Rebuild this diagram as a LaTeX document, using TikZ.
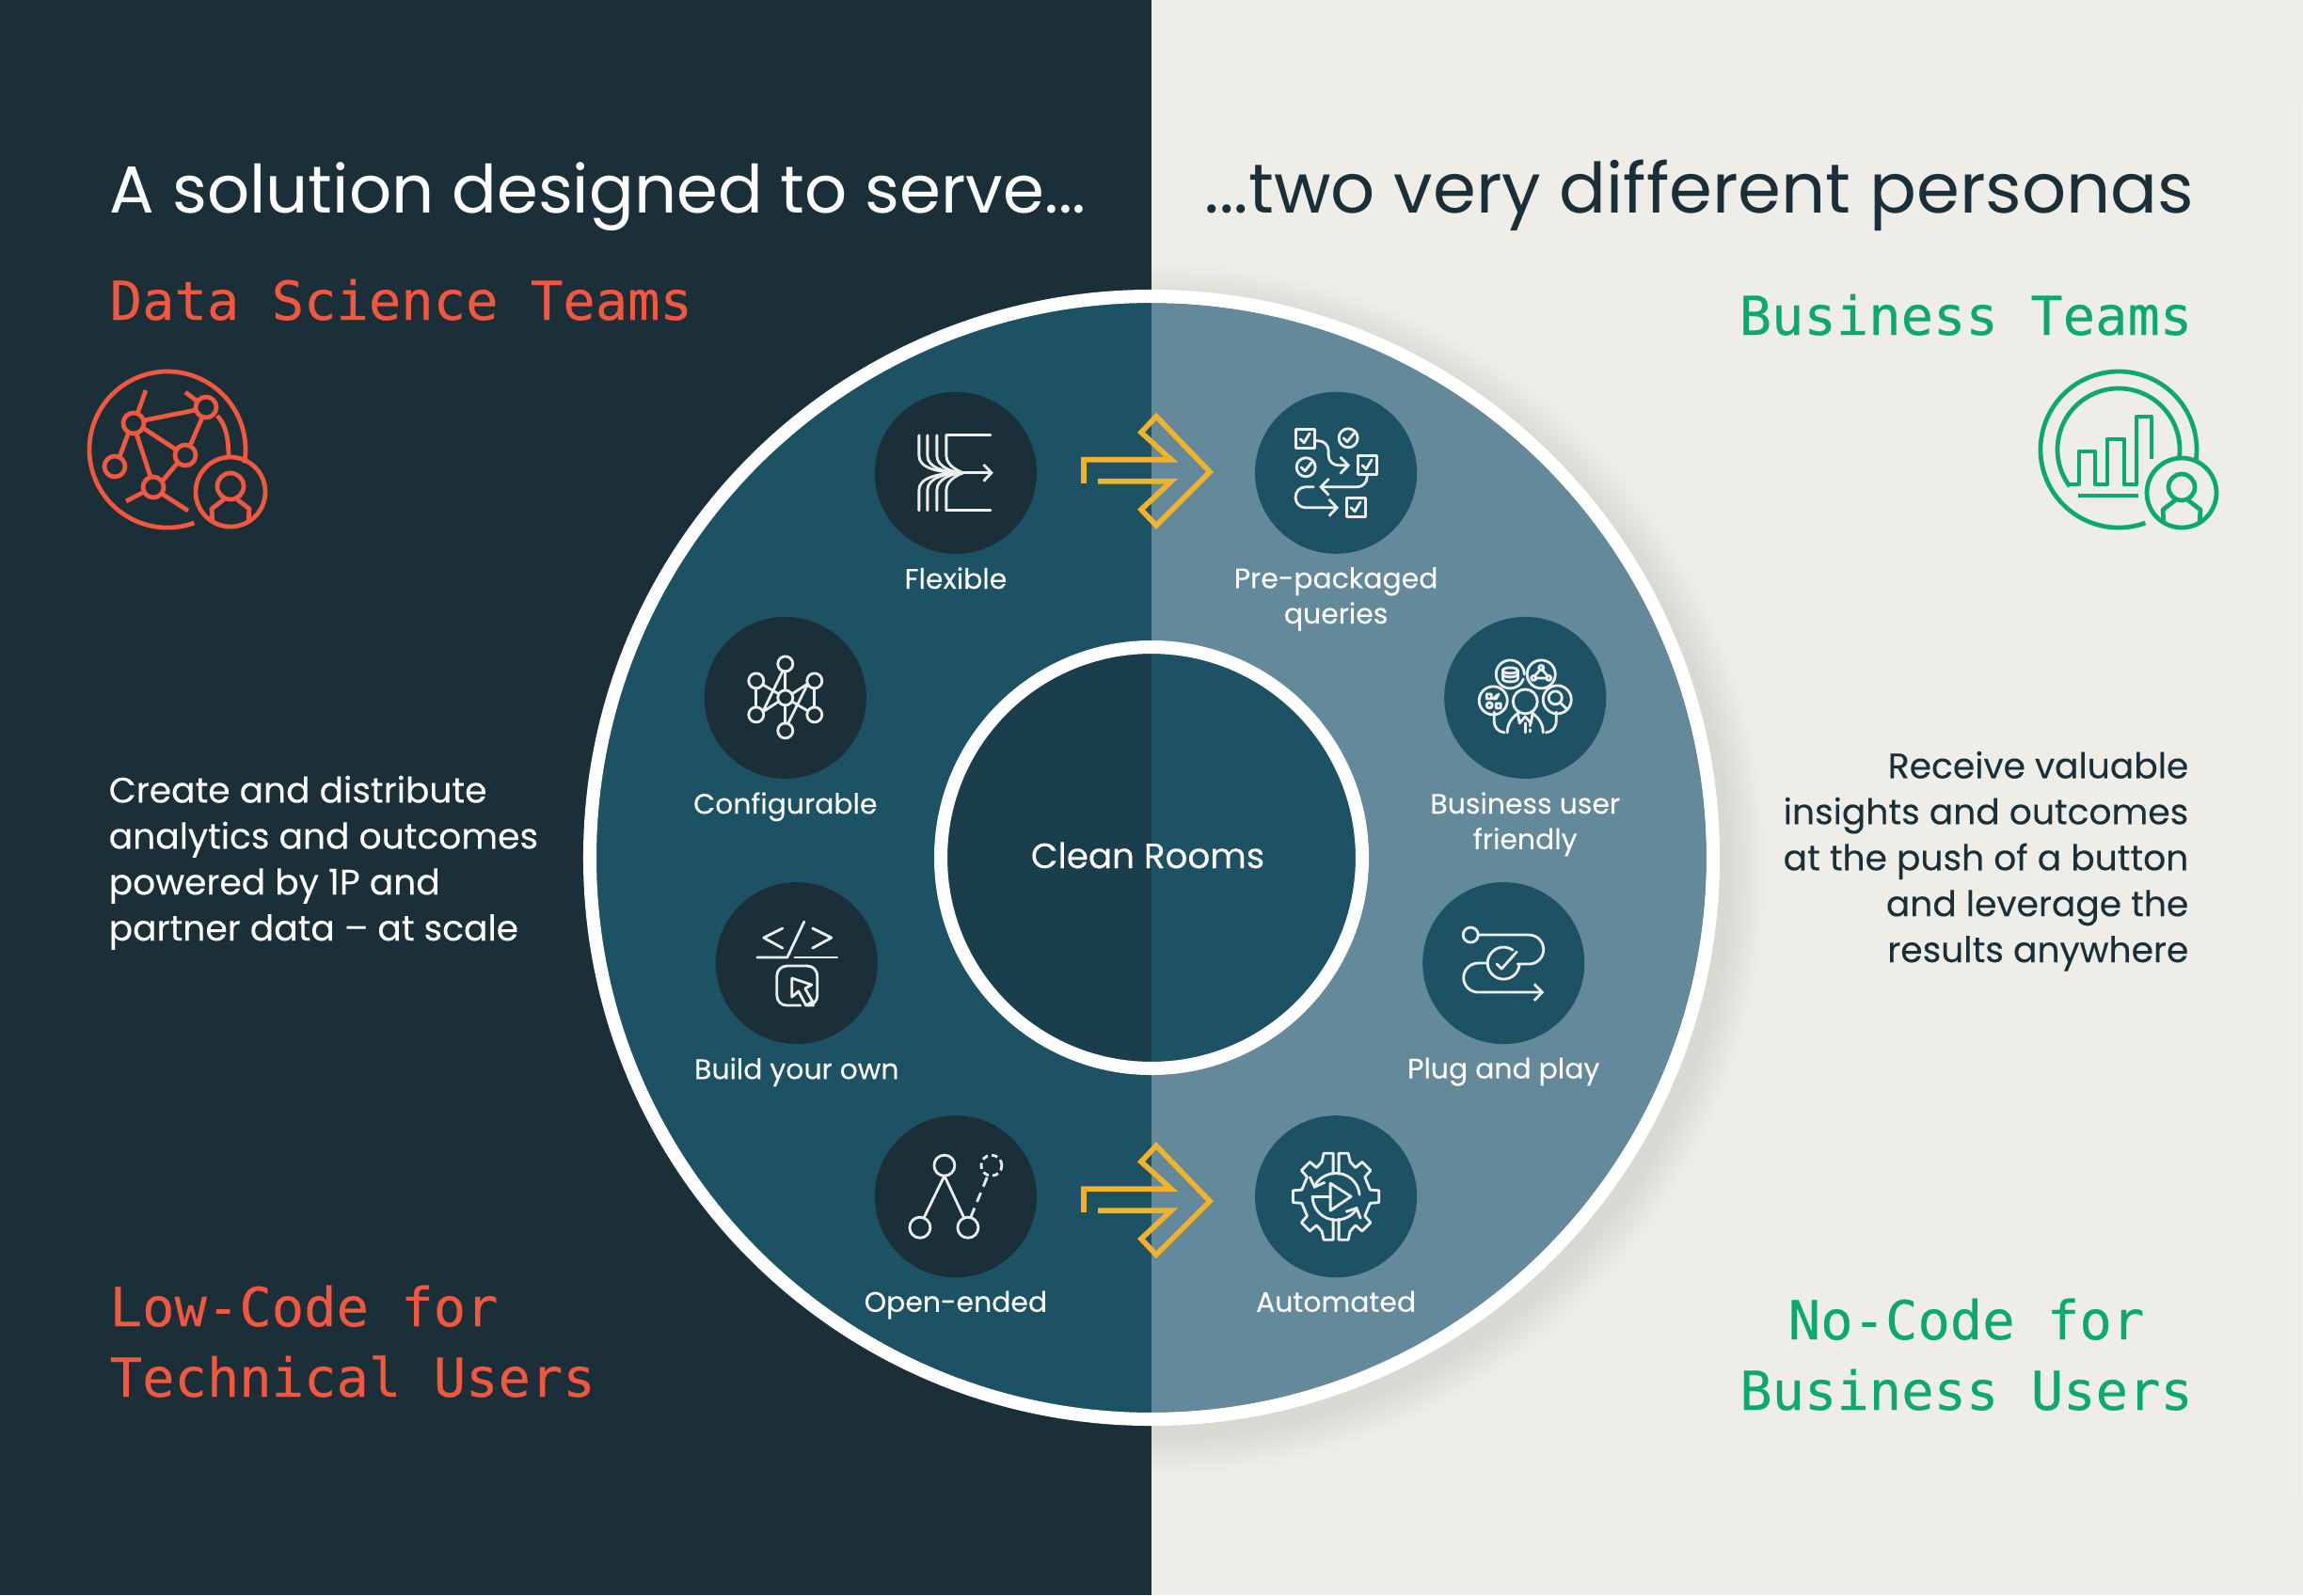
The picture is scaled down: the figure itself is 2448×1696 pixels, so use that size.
\documentclass[tikz,border=0pt]{standalone}
\usepackage{fontspec}
\setmainfont{Poppins}
\setmonofont[FakeBold=.25]{DejaVu Sans Mono}
\usetikzlibrary{positioning,calc,arrows.meta}
\definecolor{nightbg}{HTML}{1B2F38}
\definecolor{paperbg}{HTML}{EEEDE8}
\definecolor{diskL}{HTML}{1D5265}
\definecolor{diskR}{HTML}{63899A}
\definecolor{hubL}{HTML}{1A3E4B}
\definecolor{coral}{HTML}{F4573F}
\definecolor{leaf}{HTML}{0BAA6C}
\definecolor{gold}{HTML}{F2B32B}
\definecolor{icoline}{HTML}{ECEFEF}
\tikzset{
  x=0.01cm, y=0.01cm,
  bubL/.style={circle, fill=nightbg, minimum size=1.72cm, inner sep=0pt, on grid},
  bubR/.style={circle, fill=diskL, minimum size=1.72cm, inner sep=0pt, on grid},
  lab/.style={text=white, font=\addfontfeature{FakeBold=.12}\fontsize{8.5}{10.7}\selectfont, align=center, inner sep=0pt, anchor=north},
  title/.style={inner sep=0pt, font=\fontsize{20.1}{24}\selectfont},
  mono/.style={inner sep=0pt, font=\ttfamily\fontsize{16.25}{21.3}\selectfont},
  para/.style={inner sep=0pt, font=\addfontfeature{FakeBold=.12}\fontsize{10.7}{13.9}\selectfont},
  ico/.style={draw=icoline, line width=.8pt, line cap=round, line join=round},
  icoarr/.style={ico, -{Straight Barb[length=2.4pt,width=5pt]}},
  bigico/.style={line width=1.35pt, line join=round},
  swoop/.pic={
    \draw[gold, line width=1.6pt] (-66,-11) -- (-66,14) -- (27,14) -- (-5,43) -- (11,60) -- (68,1)
      -- (11,-56) -- (-5,-39) -- (27,-9) -- (-51,-9);
  },
  bust/.pic={
    \draw (0,0) circle[radius=37];
    \draw (0,6) circle[radius=14];
    \draw (-19,-32) -- (-20,-18) -- (-7,-8) (19,-32) -- (20,-18) -- (7,-8);
  },
}
\begin{document}
\begin{tikzpicture}
\useasboundingbox (0,-1696) rectangle (2448,0);

% backgrounds
\fill[nightbg] (0,-1696) rectangle (1224,0);
\fill[paperbg] (1224,-1696) rectangle (2448,0);
\draw[black!8, line width=.6pt, rounded corners=8pt] (1224,-83) -- (2444,-83) -- (2444,-1615) -- (1224,-1615);

% soft shadow on the paper side
\begin{scope}
\clip (1224,-1696) rectangle (2448,0);
\foreach \s in {0,2,...,40} {
  \fill[black, opacity=.004] (1234,-924) circle[radius=604+\s];
}
\end{scope}

% big disk and hub
\coordinate (hub) at (1224,-912);
\fill[diskL] (hub) ++(90:590) arc[start angle=90, end angle=270, radius=590] -- cycle;
\fill[diskR] (hub) ++(90:590) arc[start angle=90, end angle=-90, radius=590] -- cycle;
\fill[hubL] (hub) ++(90:217) arc[start angle=90, end angle=270, radius=217] -- cycle;
\fill[diskL] (hub) ++(90:217) arc[start angle=90, end angle=-90, radius=217] -- cycle;
\draw[white, line width=4pt] (hub) circle[radius=597];
\draw[white, line width=4pt] (hub) circle[radius=224];
\node[text=white, inner sep=0pt, anchor=base, font=\addfontfeature{FakeBold=.12}\fontsize{10.6}{13}\selectfont] (clean) at (1220,-923) {Clean Rooms};

% headings
\node[title, text=white, anchor=base west] (ttlL) at (116,-226) {A solution designed to serve...};
\node[title, text=nightbg, anchor=base east, font=\fontsize{21}{24}\selectfont] (ttlR) at (2333,-226) {...two very different personas};
\node[mono, text=coral, anchor=base west] (dsteam) at (116,-340) {Data Science Teams};
\node[mono, text=leaf, anchor=base east] (bizteam) at (2331,-356) {Business Teams};
\node[mono, text=coral, anchor=base west, align=left] (lowcode) at (116,-1485) {Low-Code for\\Technical Users};
\node[mono, text=leaf, anchor=base, align=center] (nocode) at (2090,-1499) {No-Code for\\Business Users};
\node[para, text=white, anchor=base west, align=left] (parL) at (115,-1000) {Create and distribute\\analytics and outcomes\\powered by 1P and\\partner data -- at scale};
\node[para, text=nightbg, anchor=base east, align=right] (parR) at (2327,-1023) {Receive valuable\\insights and outcomes\\at the push of a button\\and leverage the\\results anywhere};

% bubbles
\node[bubL, above left=4.09cm and 2.08cm of hub, anchor=center] (flex) {};
\node[bubR, above right=4.09cm and 1.96cm of hub, anchor=center] (pack) {};
\node[bubL, above left=1.70cm and 3.89cm of hub, anchor=center] (conf) {};
\node[bubR, above right=1.70cm and 3.97cm of hub, anchor=center] (biz) {};
\node[bubL, below left=1.12cm and 3.77cm of hub, anchor=center] (build) {};
\node[bubR, below right=1.12cm and 3.74cm of hub, anchor=center] (plug) {};
\node[bubL, below left=3.60cm and 2.08cm of hub, anchor=center] (open) {};
\node[bubR, below right=3.60cm and 1.96cm of hub, anchor=center] (auto) {};

\node[lab, below=.13cm of flex] (flexlab) {Flexible};
\node[lab, below=.13cm of pack] (packlab) {Pre-packaged\\queries};
\node[lab, below=.13cm of conf] (conflab) {Configurable};
\node[lab, below=.13cm of biz] (bizlab) {Business user\\friendly};
\node[lab, below=.13cm of build] (buildlab) {Build your own};
\node[lab, below=.13cm of plug] (pluglab) {Plug and play};
\node[lab, below=.13cm of open] (openlab) {Open-ended};
\node[lab, below=.13cm of auto] (autolab) {Automated};

% gold arrows
\path ($(flex)!.5!(pack)$) pic {swoop};
\path ($(open)!.5!(auto)$) ++(0,-6) pic {swoop};

% persona icons
\begin{scope}[coral, bigico]
\draw (178,-478) ++(-70:83) arc[start angle=-70, end angle=-370, radius=83];
\path (245,-523) pic {bust};
\foreach \p in {(142,-450),(219,-433),(197,-484),(163,-518),(122,-496)} {
  \draw \p circle[radius=11];
}
\draw (155,-415) -- (146,-440) (197,-417) -- (209,-426) (134,-533) -- (153,-523) (200,-543) -- (172,-525);
\draw (153,-447) -- (208,-436) (152,-455) -- (187,-478) (145,-461) -- (160,-507) (137,-459) -- (127,-486);
\draw (172,-512) -- (189,-492) (215,-444) -- (202,-474);
\draw (231,-442) .. controls (240,-452) and (243,-465) .. (243,-488);
\end{scope}
\begin{scope}[leaf, bigico]
\draw (2252,-478) ++(-70:83) arc[start angle=-70, end angle=-369, radius=83];
\draw (2252,-478) ++(217:65) arc[start angle=217, end angle=-9, radius=65];
\path (2319,-524) pic {bust};
\draw (2200,-515) -- (2210,-515) -- (2210,-480) -- (2227,-480) -- (2227,-515) -- (2240,-515) -- (2240,-467)
  -- (2258,-467) -- (2258,-515) -- (2271,-515) -- (2271,-443) -- (2287,-443) -- (2287,-488);
\draw (2209,-527) -- (2273,-527);
\end{scope}

% flexible
\begin{scope}[shift={(flex)}]
\foreach \a in {-39,-30,-20,-10} {
  \draw[ico] (\a,40) -- (\a,18) .. controls (\a,6) and (\a+18,0) .. (8,0);
  \draw[ico] (\a,-40) -- (\a,-18) .. controls (\a,-6) and (\a+18,0) .. (8,0);
}
\draw[ico] (-10,40) -- (37,40) (-10,-40) -- (37,-40);
\draw[icoarr] (4,0) -- (40,0);
\end{scope}

% pre-packaged
\begin{scope}[shift={(pack)}]
\foreach \x/\y in {-33/36, 33/8, 21/-37} {
  \draw[ico] (\x-10,\y-10) rectangle (\x+10,\y+10);
  \draw[ico] (\x-5,\y) -- (\x-1,\y-4) -- (\x+5,\y+6);
}
\foreach \x/\y in {13/37, -32/6} {
  \draw[ico] (\x,\y) circle[radius=10];
  \draw[ico] (\x-5,\y) -- (\x-1,\y-4) -- (\x+6,\y+5);
}
\draw[icoarr, rounded corners=3pt] (-23,34) -- (-8,34) -- (-8,8) -- (15,8);
\draw[icoarr, rounded corners=3pt] (33,-2) -- (33,-15) -- (-18,-15);
\draw[icoarr, rounded corners=3pt] (-24,-15) -- (-43,-15) -- (-43,-37) -- (3,-37);
\end{scope}

% configurable
\begin{scope}[shift={(conf)}]
\foreach \n/\x/\y in {a/0/36, b/-31/18, c/31/18, d/-31/-18, e/31/-18, f/0/-35} {
  \draw[ico] (\x,\y) circle[radius=8];
}
\draw[ico] (0,0) circle[radius=8];
\draw[ico] (0,28) -- (0,8) (0,-8) -- (0,-27) (-31,10) -- (-31,-10) (31,10) -- (31,-10);
\draw[ico] (-24,14) -- (-7,4) (24,-14) -- (7,-4);
\draw[ico] (-24,-15) -- (-3,28) (24,15) -- (3,-27) (-24,-15) -- (-7,-4) (24,15) -- (7,4);
\end{scope}

% business user friendly
\begin{scope}[shift={(biz)}]
\draw[ico] (-1,25) arc[start angle=0, end angle=340, radius=15];
\draw[ico] (-16,29) ellipse[x radius=8, y radius=3];
\draw[ico] (-24,29) -- (-24,20) (-8,29) -- (-8,20);
\draw[ico] (-24,25) arc[start angle=180, end angle=360, x radius=8, y radius=3];
\draw[ico] (-24,20) arc[start angle=180, end angle=360, x radius=8, y radius=3];
\draw[ico] (17,25) circle[radius=15];
\draw[ico] (9,21) circle[radius=2.5] (25,21) circle[radius=2.5] (17,32) circle[radius=2.5];
\draw[ico] (11,21) -- (23,21) (10,23) -- (16,30) (24,23) -- (18,30);
\draw[ico] (-34,-3) circle[radius=15];
\draw[ico] (-41,-1) rectangle (-36,4) (-31,-1) -- (-28,4) -- (-34,-1) -- cycle;
\draw[ico] (-38,-8) circle[radius=3] (-31,-11) rectangle (-26,-6);
\draw[ico] (34,-2) circle[radius=15];
\draw[ico] (32,0) circle[radius=7] (38,-6) -- (45,-13);
\draw[ico] (0,-4) circle[radius=13];
\draw[ico] (-33,-15) -- (-33,-24) .. controls (-33,-32) and (-29,-36) .. (-22,-37);
\draw[ico] (33,-15) -- (33,-24) .. controls (33,-32) and (29,-36) .. (22,-37);
\draw[ico] (-19,-37) .. controls (-19,-27) and (-14,-21) .. (-6,-15);
\draw[ico] (19,-37) .. controls (19,-27) and (14,-21) .. (6,-15);
\draw[ico] (-8,-16) -- (-6,-27) -- (0,-20) -- (6,-27) -- (8,-16);
\draw[ico] (0,-27) -- (0,-37) (5,-28) -- (5,-30) (5,-34) -- (5,-36);
\end{scope}

% build your own
\begin{scope}[shift={(build)}]
\draw[ico] (-15,37) -- (-35,27) -- (-15,16);
\draw[ico] (17,37) -- (37,27) -- (17,16);
\draw[ico] (8,44) -- (-10,6) -- (-42,6);
\draw[ico] (-2,6) -- (43,6);
\draw[ico, rounded corners=3pt] (4,-45) -- (-21,-45) -- (-21,-3) -- (22,-3) -- (22,-45) -- (18,-45);
\draw[ico] (-5,-16) -- (-5,-36) -- (2,-30) -- (10,-45) -- (17,-41) -- (9,-27) -- (16,-23) -- cycle;
\end{scope}

% plug and play
\begin{scope}[shift={(plug)}]
\draw[ico] (-35,30) circle[radius=8];
\draw[ico] (-27,30) -- (27,30) arc[start angle=90, end angle=-90, radius=15.5] -- (15,-1);
\draw[ico] (9.75,13.9) arc[start angle=55, end angle=355, radius=17];
\draw[ico] (-7,-1) -- (-2,-6) -- (14,12);
\draw[icoarr] (-17,0) -- (-27,0) arc[start angle=90, end angle=270, radius=15.5] -- (43,-31);
\end{scope}

% open-ended
\begin{scope}[shift={(open)}]
\draw[ico] (-12,33) circle[radius=11] (-38,-33) circle[radius=11] (13,-33) circle[radius=11];
\draw[ico, line cap=butt, dash pattern=on 1.8pt off 1.2pt] (38,33) circle[radius=11];
\draw[ico] (-12,22) -- (-34,-23) (-12,22) -- (9,-23);
\draw[ico, line cap=butt, dash pattern=on 3pt off 2pt] (16,-22) -- (34,22);
\end{scope}

% automated
\begin{scope}[shift={(auto)}]
\draw[ico] (3,24) -- (3,46) -- (13,46) -- (15,37)
  \foreach \a in {45,0,-45} { -- (\a+11:37) -- (\a+8:46) -- (\a-8:46) -- (\a-11:37) }
  -- (15,-37) -- (13,-46) -- (3,-46) -- (3,-24);
\draw[ico] (-3,24) -- (-3,46) -- (-13,46) -- (-15,37)
  \foreach \a in {135,180,225} { -- (\a-11:37) -- (\a-8:46) -- (\a+8:46) -- (\a+11:37) }
  -- (-15,-37) -- (-13,-46) -- (-3,-46) -- (-3,-24);
\draw[ico] (-6,14) -- (-6,-15) -- (16,0) -- cycle;
\draw[icoarr] (25,2) arc[start angle=5, end angle=160, radius=25];
\draw[icoarr] (-25,0) arc[start angle=180, end angle=335, radius=25];
\draw[ico] (-25,0) -- (-6,0);
\end{scope}
\end{tikzpicture}
\end{document}
